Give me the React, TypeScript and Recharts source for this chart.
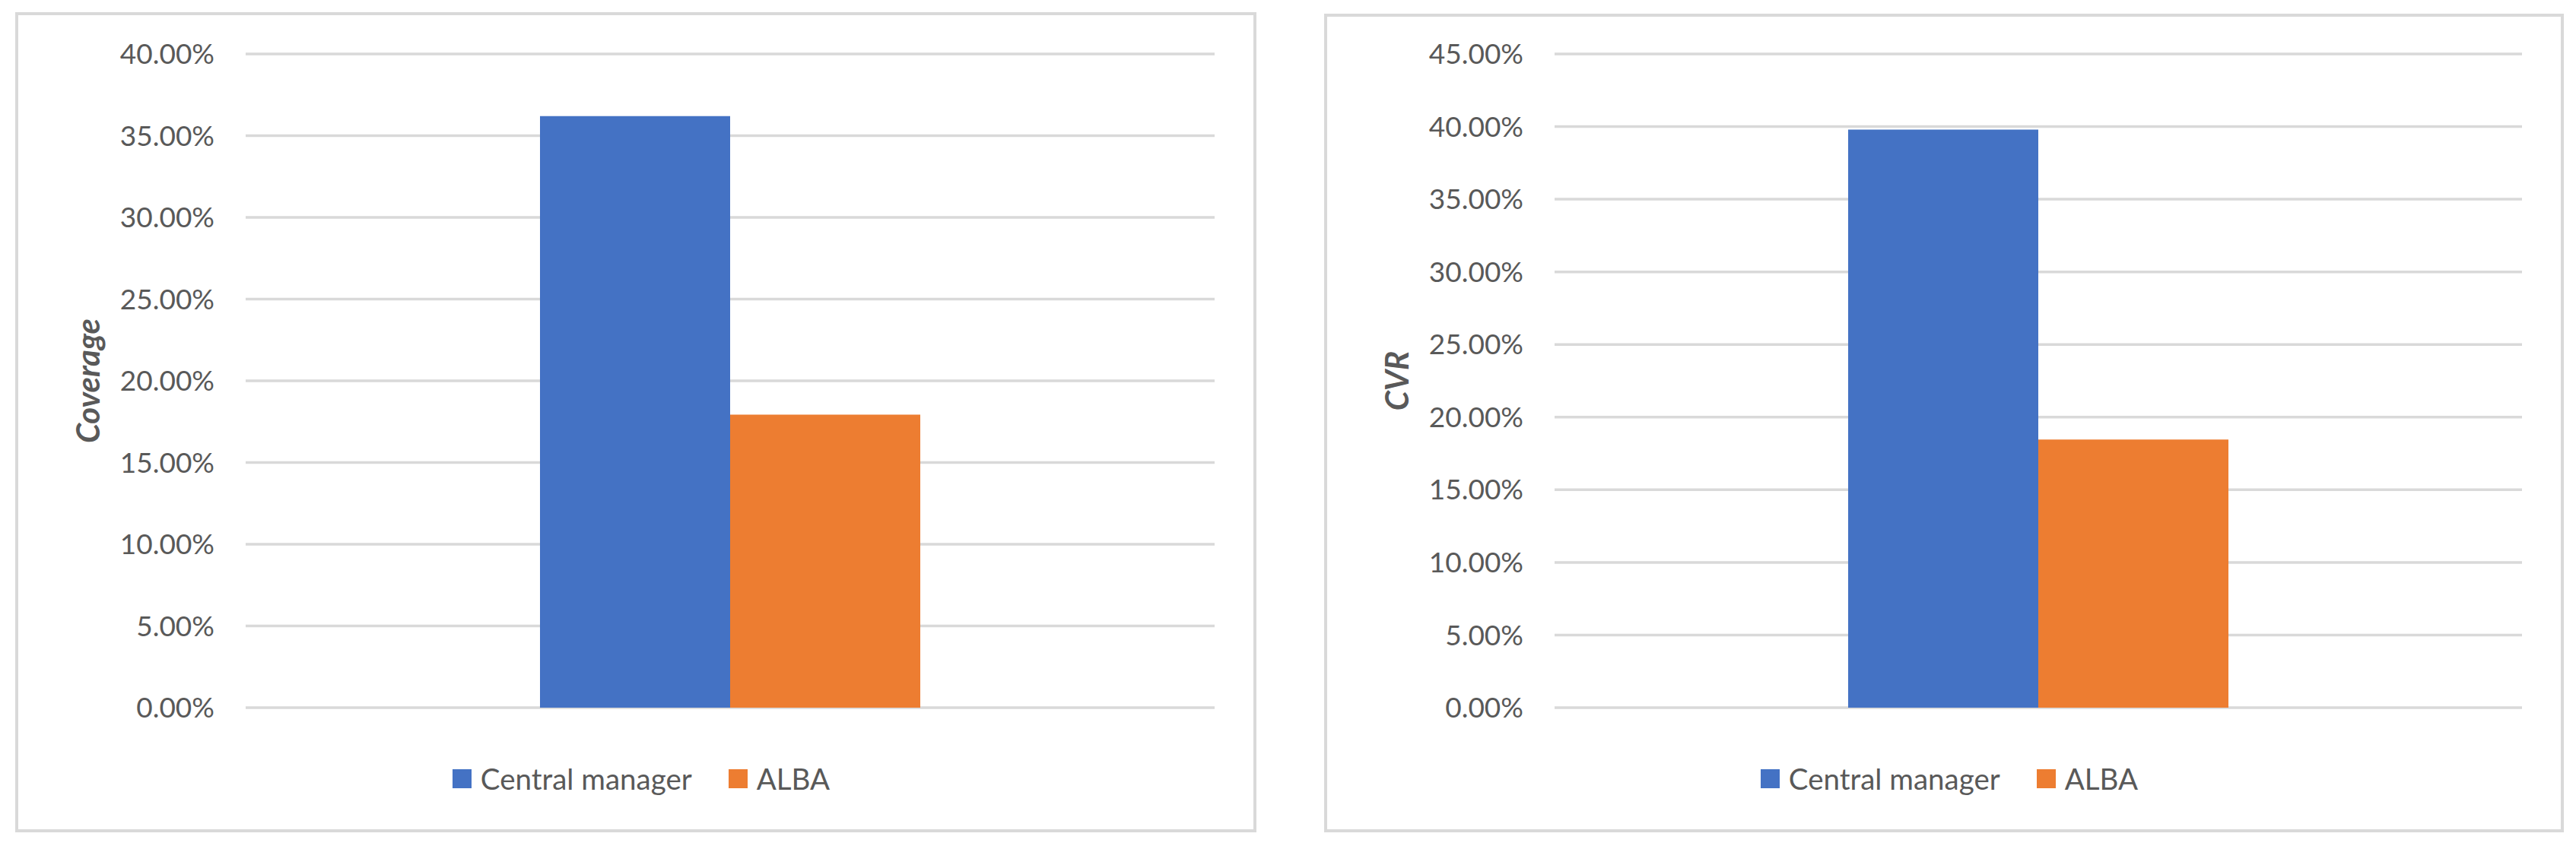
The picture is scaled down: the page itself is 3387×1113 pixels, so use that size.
import React from 'react';
import { BarChart, Bar, XAxis, YAxis, CartesianGrid, Legend, Label } from 'recharts';

const categories = ['Result'];
const seriesNames = ['Central manager', 'ALBA'];
const seriesColors = ['#4472C4', '#ED7D31'];
const coverageValues = [0.362, 0.1793];
const cvrValues = [0.398, 0.1846];
const coverageTicks = [0, 0.05, 0.1, 0.15, 0.2, 0.25, 0.3, 0.35, 0.4];
const cvrTicks = [0, 0.05, 0.1, 0.15, 0.2, 0.25, 0.3, 0.35, 0.4, 0.45];
const yTitles = ['Coverage', 'CVR'];

const FONT = 'Lato, "Open Sans", sans-serif';
const TEXT = '#595959';
const GRID = '#D9D9D9';
const LEGEND_H = 50;

function buildData(values: number[]) {
  return categories.map((c) => ({ category: c, s0: values[0], s1: values[1] }));
}

const fmt = (v: number) => `${(v * 100).toFixed(2)}%`;

function LegendContent() {
  return (
    <div
      style={{
        display: 'flex',
        justifyContent: 'center',
        alignItems: 'center',
        height: LEGEND_H,
        fontFamily: FONT,
        fontSize: 38.5,
        color: TEXT,
        whiteSpace: 'nowrap',
      }}
    >
      {seriesNames.map((name, i) => (
        <div key={name} style={{ display: 'flex', alignItems: 'center', marginLeft: i === 0 ? 0 : 48 }}>
          <div style={{ width: 25, height: 25, background: seriesColors[i], marginRight: 12 }} />
          <span>{name}</span>
        </div>
      ))}
    </div>
  );
}

function makeTitle(text: string) {
  return function Title(props: any) {
    const vb = props.viewBox || { x: 0, y: 0, width: 0, height: 0 };
    const cx = vb.x + 95;
    const cy = vb.y + vb.height / 2;
    return (
      <text
        x={cx}
        y={cy}
        transform={`rotate(-90, ${cx}, ${cy})`}
        textAnchor="middle"
        dominantBaseline="central"
        fill={TEXT}
        fontFamily={FONT}
        fontSize={42}
        fontWeight="bold"
        fontStyle="italic"
      >
        {text}
      </text>
    );
  };
}

type PanelProps = {
  left: number;
  top: number;
  width: number;
  height: number;
  marginTop: number;
  values: number[];
  ticks: number[];
  title: string;
  legendCenter: number;
  legendTop: number;
};

function Panel(p: PanelProps) {
  const data = buildData(p.values);
  const max = p.ticks[p.ticks.length - 1];
  return (
    <>
      <div style={{ position: 'absolute', left: p.left, top: p.top, width: p.width, height: p.height, background: '#fff' }}>
        <BarChart
          width={p.width}
          height={p.height}
          data={data}
          margin={{ top: p.marginTop, right: 55, bottom: 164 - LEGEND_H, left: 0 }}
          barGap={0}
          barSize={250}
        >
          <CartesianGrid vertical={false} stroke={GRID} strokeWidth={3.5} />
          <XAxis dataKey="category" hide />
          <YAxis
            width={303}
            domain={[0, max]}
            ticks={p.ticks}
            interval={0}
            tickFormatter={fmt}
            axisLine={false}
            tickLine={false}
            tickSize={0}
            tickMargin={41}
            tick={{ fill: TEXT, fontSize: 37, fontFamily: FONT }}
          >
            <Label content={makeTitle(p.title)} />
          </YAxis>
          <Legend
            verticalAlign="bottom"
            content={<LegendContent />}
            wrapperStyle={{ position: 'absolute', left: p.legendCenter - 450, width: 900, height: LEGEND_H, top: p.legendTop, bottom: 'auto' }}
          />
          <Bar dataKey="s0" name={seriesNames[0]} fill={seriesColors[0]} isAnimationActive={false} />
          <Bar dataKey="s1" name={seriesNames[1]} fill={seriesColors[1]} isAnimationActive={false} />
        </BarChart>
      </div>
      <div
        style={{
          position: 'absolute',
          left: p.left,
          top: p.top,
          width: p.width,
          height: p.height,
          boxSizing: 'border-box',
          border: `4px solid ${GRID}`,
          pointerEvents: 'none',
        }}
      />
    </>
  );
}

export default function App() {
  return (
    <div style={{ position: 'absolute', left: 0, top: 0, width: 3387, height: 1113, background: '#fff', fontFamily: FONT }}>
      <Panel
        left={20}
        top={16}
        width={1632}
        height={1079}
        marginTop={55}
        values={coverageValues}
        ticks={coverageTicks}
        title={yTitles[0]}
        legendCenter={823}
        legendTop={983}
      />
      <Panel
        left={1741}
        top={18}
        width={1630}
        height={1077}
        marginTop={53}
        values={cvrValues}
        ticks={cvrTicks}
        title={yTitles[1]}
        legendCenter={822}
        legendTop={981}
      />
    </div>
  );
}
